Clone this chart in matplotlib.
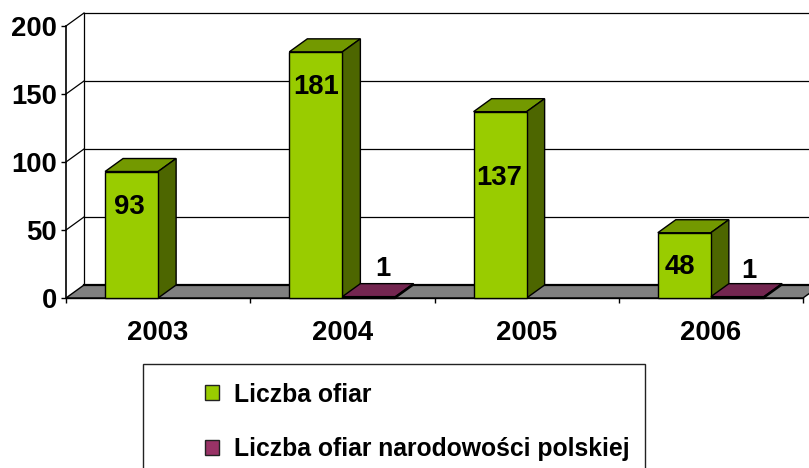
import matplotlib
matplotlib.use("Agg")
import matplotlib.pyplot as plt
from matplotlib.patches import Patch, Rectangle

plt.rcParams["font.family"] = ["Liberation Sans", "DejaVu Sans"]
plt.rcParams["font.weight"] = "bold"

# Dane
years = ["2003", "2004", "2005", "2006"]
ofiary = [93, 181, 137, 48]
ofiary_polskie = [0, 1, 0, 1]
series_names = ["Liczba ofiar", "Liczba ofiar narodowości polskiej"]
yticks = [0, 50, 100, 150, 200]

# Wyglad
W, H = 809, 468
LEFT, RIGHT, TOP, BOTTOM = 66, 803, 26, 298
BAR_W = 0.288
DEPTH_X = 18 / (RIGHT - LEFT) * 4
DEPTH_Y = 13 / (BOTTOM - TOP) * 200
GREEN = ("#99CC00", "#739900", "#4D6600")
MAROON = ("#993366", "#732650", "#4D1A33")
FS = 19.8

# przesuniecia etykiet w pikselach (dx, dy)
green_label_off = [(-2, -35), (0, -35), (-1, -66), (-4, -34)]
maroon_label_off = [None, (14, 28), None, (11, 26)]

fig = plt.figure(figsize=(W / 100, H / 100), dpi=100)
ax = fig.add_axes([LEFT / W, 1 - BOTTOM / H, (RIGHT - LEFT) / W, (BOTTOM - TOP) / H])
ax.set_xlim(-0.5, 3.5)
ax.set_ylim(0, 200)
ax.patch.set_visible(False)
for name in ["top", "right"]:
    ax.spines[name].set_visible(False)
ax.spines["left"].set_linewidth(1.2)
ax.spines["bottom"].set_linewidth(1.0)

xmin, xmax = ax.get_xlim()

# Sciany: siatka na tylnej scianie i skosy
for v in yticks[1:]:
    ax.plot([xmin + DEPTH_X, xmax + DEPTH_X], [v + DEPTH_Y, v + DEPTH_Y], color="black",
            lw=0.9, clip_on=False, zorder=1)
    ax.plot([xmin, xmin + DEPTH_X], [v, v + DEPTH_Y], color="black", lw=0.9, clip_on=False, zorder=1)
ax.plot([xmin + DEPTH_X, xmin + DEPTH_X], [DEPTH_Y, 200 + DEPTH_Y], color="black", lw=0.9,
        clip_on=False, zorder=1)

# Podloga
ax.fill([xmin, xmax, xmax + DEPTH_X, xmin + DEPTH_X], [0, 0, DEPTH_Y, DEPTH_Y],
        facecolor="#808080", edgecolor="black", lw=1.0, clip_on=False, zorder=2)
ax.plot([xmin + DEPTH_X, xmax + DEPTH_X], [DEPTH_Y, DEPTH_Y], color="black", lw=1.6, clip_on=False, zorder=2)


def draw_bar(left, value, colors):
    right = left + BAR_W
    ax.fill([left, left + DEPTH_X, right + DEPTH_X, right], [value, value + DEPTH_Y, value + DEPTH_Y, value],
            facecolor=colors[1], edgecolor="black", lw=1.0, clip_on=False, zorder=3)
    ax.fill([right, right + DEPTH_X, right + DEPTH_X, right], [0, DEPTH_Y, value + DEPTH_Y, value],
            facecolor=colors[2], edgecolor="black", lw=1.0, clip_on=False, zorder=3)
    ax.bar(left, value, BAR_W, align="edge", color=colors[0], edgecolor="black", lw=1.0,
           clip_on=False, zorder=3)


for i in range(len(years)):
    start = i - 0.5 + (1 - 2 * BAR_W) / 2
    draw_bar(start, ofiary[i], GREEN)
    ax.annotate(str(ofiary[i]), (start + BAR_W / 2, ofiary[i]), xytext=green_label_off[i],
                textcoords="offset pixels", ha="center", va="center", fontsize=FS, zorder=5)
    if ofiary_polskie[i]:
        draw_bar(start + BAR_W, ofiary_polskie[i], MAROON)
        ax.annotate(str(ofiary_polskie[i]), (start + 1.5 * BAR_W, ofiary_polskie[i]),
                    xytext=maroon_label_off[i], textcoords="offset pixels",
                    ha="center", va="center", fontsize=FS, zorder=5)

# Osie
ax.set_yticks(yticks)
ax.tick_params(axis="y", length=3.6, width=1.0, labelsize=FS, pad=3)
ax.set_xticks([i - 0.5 for i in range(len(years) + 1)])
ax.set_xticklabels([])
ax.set_xticks(range(len(years)), years, minor=True)
ax.tick_params(axis="x", which="major", length=3.6, width=1.0)
ax.tick_params(axis="x", which="minor", length=0, labelsize=FS, pad=16)

# Legenda
fig.add_artist(Rectangle((143 / W, -0.02), (645 - 143) / W, 1 - 364 / H + 0.02, transform=fig.transFigure,
                         facecolor="white", edgecolor="#222222", lw=1.0))
handles = [Patch(facecolor=GREEN[0], edgecolor="#222222", lw=1.0),
           Patch(facecolor=MAROON[0], edgecolor="#222222", lw=1.0)]
leg = fig.legend(handles, series_names, loc="upper left", bbox_to_anchor=(205 / W, 1 - 382.5 / H),
                 frameon=False, fontsize=17.8, handlelength=0.57, handleheight=0.57,
                 handletextpad=0.6, labelspacing=1.25, borderpad=0, borderaxespad=0)
leg.set_zorder(10)

plt.savefig("out.png", dpi=100)
plt.close()
